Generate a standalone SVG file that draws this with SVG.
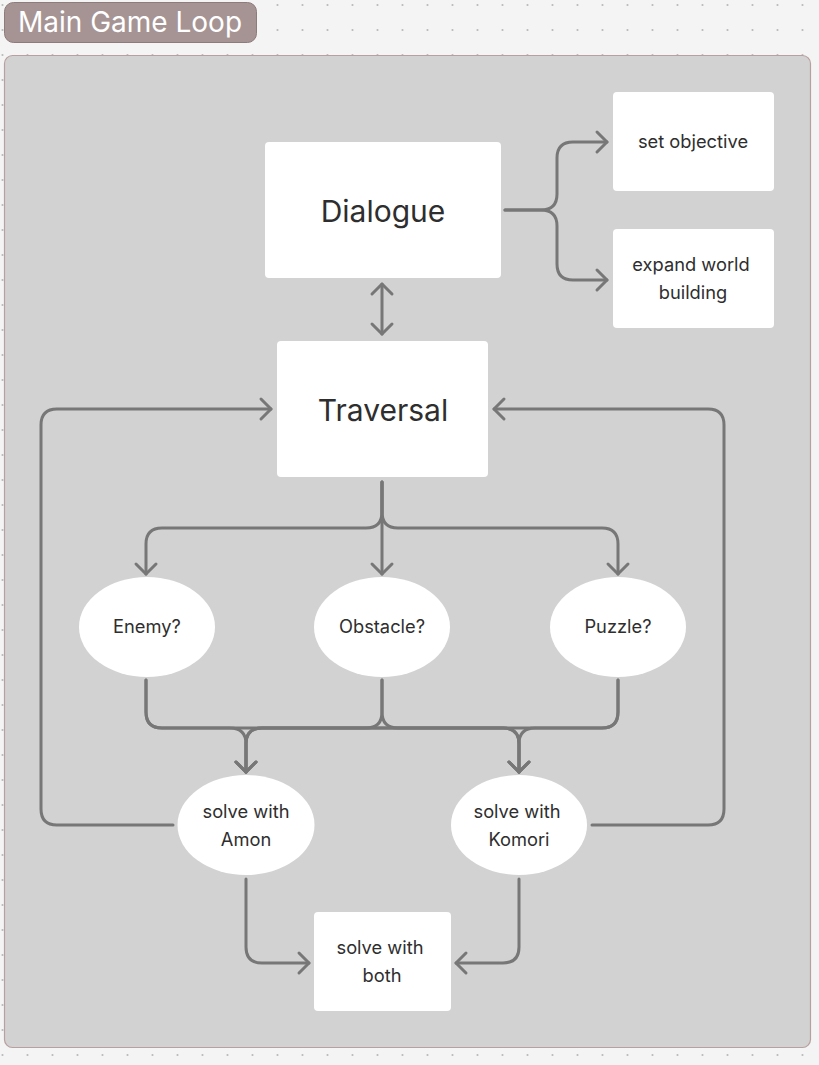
<svg xmlns="http://www.w3.org/2000/svg" width="819" height="1065" viewBox="0 0 819 1065">
<style>
.node{fill:#ffffff}
.lbl{font-family:Inter,"Liberation Sans",sans-serif;fill:#2e2e2e;text-anchor:middle}
.big{font-size:30px}
.sm{font-size:18.3px}
.conn{fill:none;stroke:#777777;stroke-width:3;stroke-linecap:round;stroke-linejoin:round}
</style>
<defs>
<pattern id="dots" x="0" y="0" width="25" height="25" patternUnits="userSpaceOnUse">
<circle cx="2.5" cy="5" r="1.1" fill="#b9b9b9"/>
</pattern>
<marker id="arr" markerUnits="userSpaceOnUse" viewBox="-13 -13 16 26" refX="0" refY="0" markerWidth="16" markerHeight="26" orient="auto-start-reverse">
<path d="M-10,-10 L0,0 L-10,10" fill="none" stroke="#777777" stroke-width="3" stroke-linecap="round" stroke-linejoin="round"/>
</marker>
</defs>
<rect x="0" y="0" width="819" height="1065" fill="#f4f4f4"/>
<rect x="0" y="0" width="819" height="1065" fill="url(#dots)"/>
<g id="frame">
<rect x="4.5" y="55.5" width="806" height="992" rx="8" fill="#d2d2d2" stroke="#b9a0a0" stroke-width="1.2"/>
</g>
<g id="title">
<rect x="4.5" y="2.5" width="252" height="40" rx="9" fill="#a69494" stroke="#8e7b7b" stroke-width="1"/>
<text x="130" y="31.5" font-family="Inter,'Liberation Sans',sans-serif" font-size="28" fill="#ffffff" text-anchor="middle">Main Game Loop</text>
</g>
<g id="connectors">
<path class="conn" marker-end="url(#arr)" d="M505 210 H541 Q557 210 557 194 V158 Q557 142 573 142 H607"/>
<path class="conn" marker-end="url(#arr)" d="M505 210 H541 Q557 210 557 226 V264 Q557 280 573 280 H607"/>
<path class="conn" marker-start="url(#arr)" marker-end="url(#arr)" d="M382 284 V334"/>
<path class="conn" marker-end="url(#arr)" d="M382 482 V512 Q382 528 366 528 H162 Q146 528 146 544 V574"/>
<path class="conn" marker-end="url(#arr)" d="M382 482 V574"/>
<path class="conn" marker-end="url(#arr)" d="M382 482 V512 Q382 528 398 528 H602 Q618 528 618 544 V574"/>
<path class="conn" marker-end="url(#arr)" d="M146 680 V712 Q146 728 162 728 H230 Q246 728 246 744 V772"/>
<path class="conn" marker-end="url(#arr)" d="M146 680 V712 Q146 728 162 728 H503 Q519 728 519 744 V772"/>
<path class="conn" marker-end="url(#arr)" d="M382 680 V712 Q382 728 366 728 H262 Q246 728 246 744 V772"/>
<path class="conn" marker-end="url(#arr)" d="M382 680 V712 Q382 728 398 728 H503 Q519 728 519 744 V772"/>
<path class="conn" marker-end="url(#arr)" d="M618 680 V712 Q618 728 602 728 H262 Q246 728 246 744 V772"/>
<path class="conn" marker-end="url(#arr)" d="M618 680 V712 Q618 728 602 728 H535 Q519 728 519 744 V772"/>
<path class="conn" marker-end="url(#arr)" d="M173 825 H57 Q41 825 41 809 V425 Q41 409 57 409 H271"/>
<path class="conn" marker-end="url(#arr)" d="M592 825 H708 Q724 825 724 809 V425 Q724 409 708 409 H494"/>
<path class="conn" marker-end="url(#arr)" d="M246 879 V947 Q246 963 262 963 H309"/>
<path class="conn" marker-end="url(#arr)" d="M519 879 V947 Q519 963 503 963 H456"/>
</g>
<g id="dialogue">
<rect class="node" x="265" y="142" width="236" height="136" rx="4"/>
<text class="lbl big" x="383" y="222">Dialogue</text>
</g>
<g id="set-objective">
<rect class="node" x="613" y="92" width="161" height="99" rx="4"/>
<text class="lbl sm" x="693" y="148">set objective</text>
</g>
<g id="expand-world">
<rect class="node" x="613" y="229" width="161" height="99" rx="4"/>
<text class="lbl sm" x="691" y="271">expand world</text>
<text class="lbl sm" x="693" y="299">building</text>
</g>
<g id="traversal">
<rect class="node" x="277" y="341" width="211" height="136" rx="4"/>
<text class="lbl big" x="383" y="421">Traversal</text>
</g>
<g id="enemy">
<ellipse class="node" cx="147" cy="627" rx="68" ry="50"/>
<text class="lbl sm" x="147" y="633">Enemy?</text>
</g>
<g id="obstacle">
<ellipse class="node" cx="382" cy="627" rx="68" ry="50"/>
<text class="lbl sm" x="382" y="633">Obstacle?</text>
</g>
<g id="puzzle">
<ellipse class="node" cx="618" cy="627" rx="68" ry="50"/>
<text class="lbl sm" x="618" y="633">Puzzle?</text>
</g>
<g id="amon">
<ellipse class="node" cx="246" cy="825" rx="68.5" ry="50"/>
<text class="lbl sm" x="246" y="818">solve with</text>
<text class="lbl sm" x="246" y="846">Amon</text>
</g>
<g id="komori">
<ellipse class="node" cx="519" cy="825" rx="68" ry="50"/>
<text class="lbl sm" x="517" y="818">solve with</text>
<text class="lbl sm" x="519" y="846">Komori</text>
</g>
<g id="both">
<rect class="node" x="314" y="912" width="137" height="99" rx="4"/>
<text class="lbl sm" x="380" y="954">solve with</text>
<text class="lbl sm" x="382" y="982">both</text>
</g>
</svg>
